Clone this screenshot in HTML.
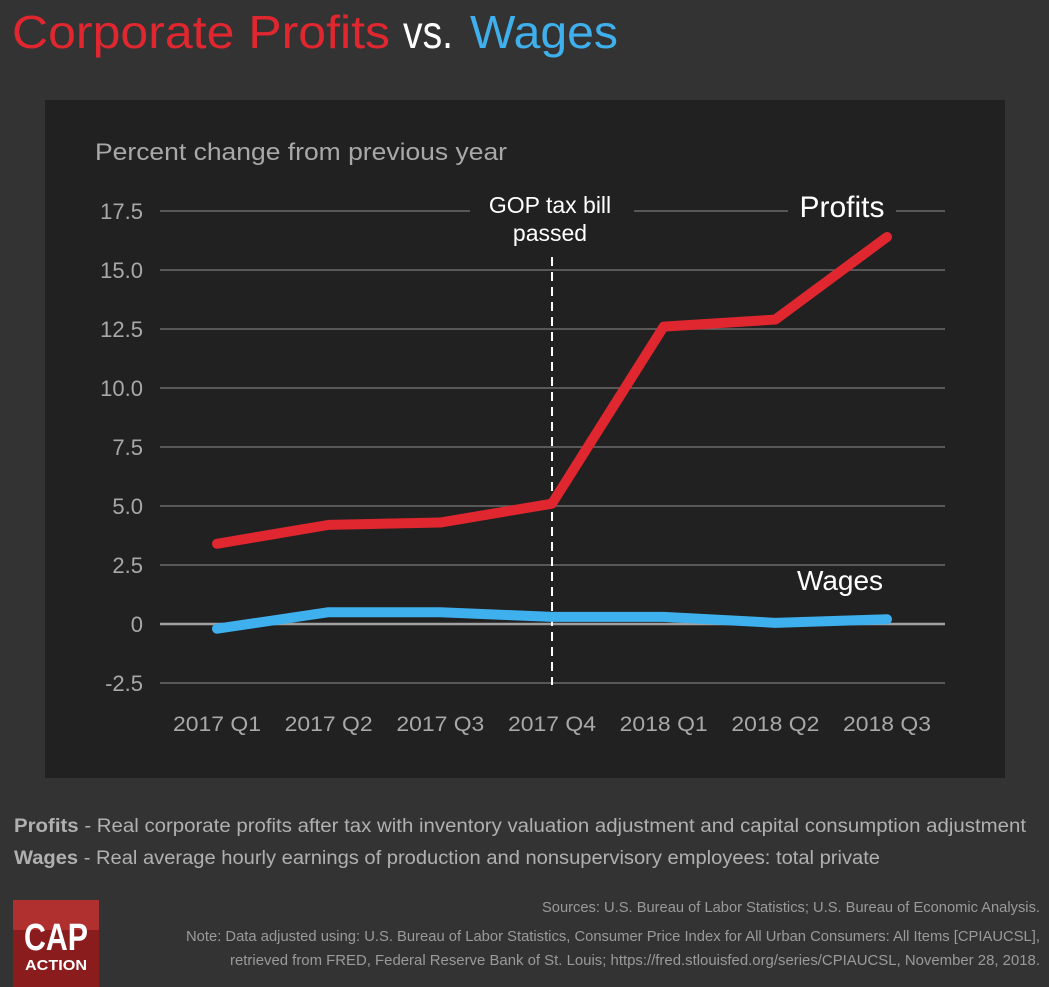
<!DOCTYPE html>
<html><head><meta charset="utf-8"><style>
html,body{margin:0;padding:0;background:#333333;}
svg{display:block;font-family:"Liberation Sans Narrow","Liberation Sans",sans-serif;}
</style></head><body>
<svg id="chart" width="1049" height="987" viewBox="0 0 1049 987" xmlns="http://www.w3.org/2000/svg">
<rect x="0" y="0" width="1049" height="987" fill="#333333"/>
<g font-family="Liberation Sans, sans-serif" font-size="46">
<text x="12" y="48" fill="#e0272f" textLength="378" lengthAdjust="spacingAndGlyphs">Corporate Profits</text>
<text x="403" y="48" fill="#ffffff" textLength="50" lengthAdjust="spacingAndGlyphs">vs.</text>
<text x="470" y="48" fill="#3fb0ee" textLength="148" lengthAdjust="spacingAndGlyphs">Wages</text>
</g>
<rect x="45" y="100" width="960" height="678" fill="#212121"/>
<text x="95" y="160" fill="#a8a8a8" font-size="24" textLength="412" lengthAdjust="spacingAndGlyphs" font-family="Liberation Sans, sans-serif">Percent change from previous year</text>
<g id="grid"></g>
<g id="marks"></g>
<g fill="#b0b0b0">
<text x="14" y="832" font-size="19" textLength="1012" lengthAdjust="spacingAndGlyphs"><tspan font-weight="bold">Profits</tspan> - Real corporate profits after tax with inventory valuation adjustment and capital consumption adjustment</text>
<text x="14" y="864" font-size="19" textLength="866" lengthAdjust="spacingAndGlyphs"><tspan font-weight="bold">Wages</tspan> - Real average hourly earnings of production and nonsupervisory employees: total private</text>
<text x="1040" y="912" font-size="15" fill="#9a9a9a" text-anchor="end" textLength="498" lengthAdjust="spacingAndGlyphs">Sources: U.S. Bureau of Labor Statistics; U.S. Bureau of Economic Analysis.</text>
<text x="1040" y="941" font-size="15" fill="#9a9a9a" text-anchor="end" textLength="854" lengthAdjust="spacingAndGlyphs">Note: Data adjusted using: U.S. Bureau of Labor Statistics, Consumer Price Index for All Urban Consumers: All Items [CPIAUCSL],</text>
<text x="1040" y="965" font-size="15" fill="#9a9a9a" text-anchor="end" textLength="810" lengthAdjust="spacingAndGlyphs">retrieved from FRED, Federal Reserve Bank of St. Louis; https://fred.stlouisfed.org/series/CPIAUCSL, November 28, 2018.</text>
</g>
<g>
<rect x="13" y="900" width="86" height="87" fill="#8a1c1e"/>
<rect x="13" y="900" width="86" height="30" fill="#b0302f"/>
<text x="56" y="950" font-size="38" font-weight="bold" fill="#fff" text-anchor="middle" textLength="64" lengthAdjust="spacingAndGlyphs" font-family="Liberation Sans, sans-serif">CAP</text>
<text x="56" y="970" font-size="15" font-weight="bold" fill="#fff" text-anchor="middle" textLength="62" lengthAdjust="spacingAndGlyphs" font-family="Liberation Sans, sans-serif">ACTION</text>
</g>
</svg>
<script>
const categories = ["2017 Q1","2017 Q2","2017 Q3","2017 Q4","2018 Q1","2018 Q2","2018 Q3"];
const profits = [3.4, 4.2, 4.3, 5.1, 12.6, 12.9, 16.4];
const wages = [-0.2, 0.5, 0.5, 0.3, 0.3, 0.05, 0.2];
const yTicks = [17.5, 15.0, 12.5, 10.0, 7.5, 5.0, 2.5, 0, -2.5];
const yTickLabels = ["17.5","15.0","12.5","10.0","7.5","5.0","2.5","0","-2.5"];
const taxBillIndex = 3;

const NS = "http://www.w3.org/2000/svg";
const yScale = v => 624 - v * (413 / 17.5);
const xScale = i => 217 + i * 111.67;
const grid = document.getElementById('grid');
const marks = document.getElementById('marks');
function mk(tag, attrs, parent){ const e=document.createElementNS(NS,tag); for(const k in attrs) e.setAttribute(k,attrs[k]); parent.appendChild(e); return e; }

yTicks.forEach((v,i)=>{
  const l = mk('line',{x1:160,x2:945,y1:yScale(v),y2:yScale(v),stroke:v===0?'#a0a0a0':'#6a6a6a','stroke-width':v===0?2.5:1.5},grid);
  
  
  const t = mk('text',{x:143,y:yScale(v)+8,fill:'#a8a8a8','font-size':22,'text-anchor':'end','font-family':'Liberation Sans, sans-serif'},grid);
  t.textContent = yTickLabels[i];
  
  
});
categories.forEach((c,i)=>{
  const t = mk('text',{x:xScale(i),y:731,fill:'#a8a8a8','font-size':21,'text-anchor':'middle','font-family':'Liberation Sans, sans-serif',textLength:88,lengthAdjust:'spacingAndGlyphs'},grid);
  t.textContent = c;
  
  
});
// tax bill annotation
const bx = xScale(taxBillIndex);
const bg1 = mk('rect',{x:bx-82,y:190,width:164,height:60,fill:'#212121'},marks);


const dl = mk('line',{x1:bx,x2:bx,y1:257,y2:685,stroke:'#ffffff','stroke-width':2,'stroke-dasharray':'9,6'},marks);


const a1 = mk('text',{x:bx-2,y:213,fill:'#fff','font-size':23,'text-anchor':'middle','font-family':'Liberation Sans, sans-serif'},marks);
a1.textContent='GOP tax bill';


const a2 = mk('text',{x:bx-2,y:241,fill:'#fff','font-size':23,'text-anchor':'middle','font-family':'Liberation Sans, sans-serif'},marks);
a2.textContent='passed';



function series(vals,color,name){
  const p = mk('polyline',{points:vals.map((v,i)=>xScale(i)+','+yScale(v)).join(' '),fill:'none',stroke:color,'stroke-width':10,'stroke-linecap':'round','stroke-linejoin':'round'},marks);
  
  
}
series(wages,'#3fb0ee','wages-line');
series(profits,'#e0272f','profits-line');

const lb1 = mk('rect',{x:788,y:188,width:108,height:40,fill:'#212121'},marks);


const pl = mk('text',{x:842,y:217,fill:'#fff','font-size':30,'text-anchor':'middle','font-family':'Liberation Sans, sans-serif'},marks);
pl.textContent='Profits';


const wl = mk('text',{x:840,y:590,fill:'#fff','font-size':28,'text-anchor':'middle','font-family':'Liberation Sans, sans-serif'},marks);
wl.textContent='Wages';


</script>
</body></html>
